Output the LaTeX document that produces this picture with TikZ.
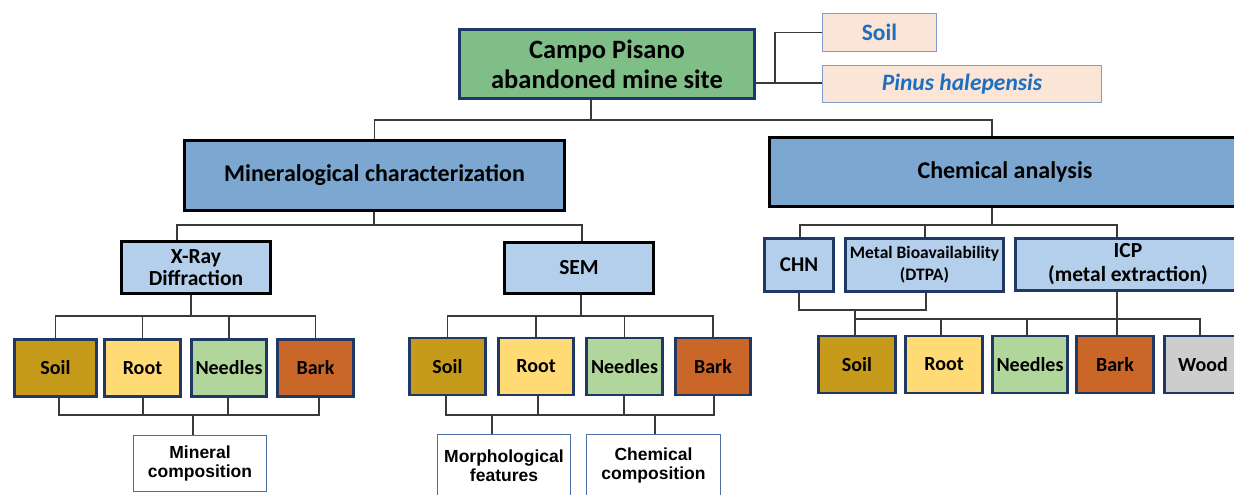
\documentclass[tikz,border=0pt]{standalone}
\usepackage{fontspec}
\setmainfont{Carlito}
\newfontfamily\arialf{Liberation Sans}
\definecolor{navy}{HTML}{1F3864}
\definecolor{linec}{HTML}{3A3A3A}
\definecolor{rootg}{HTML}{80BE88}
\definecolor{midblue}{HTML}{7BA7D0}
\definecolor{liteblue}{HTML}{B4CFEB}
\definecolor{peach}{HTML}{FBE5D6}
\definecolor{peachb}{HTML}{7F9DC6}
\definecolor{bluetxt}{HTML}{1F6FC0}
\definecolor{soilc}{HTML}{C69A1B}
\definecolor{rootc}{HTML}{FFDA75}
\definecolor{needc}{HTML}{B1D69B}
\definecolor{barkc}{HTML}{CB6629}
\definecolor{woodc}{HTML}{CDCDCD}
\definecolor{wbord}{HTML}{4F6FA5}
\begin{document}
\begin{tikzpicture}[x=1pt,y=-1pt,
  conn/.style={draw=linec, line width=1.4pt},
  box/.style={draw=navy, line width=2.8pt, align=center, inner sep=0pt,
    font=\bfseries\fontsize{20}{23}\selectfont},
  blkbox/.style={box, draw=black},
  sample/.style={box, minimum height=57},
  peachbox/.style={draw=peachb, fill=peach, line width=1.3pt, inner sep=0pt,
    text=bluetxt, font=\bfseries\fontsize{23.5}{26}\selectfont},
  resbox/.style={draw=wbord, fill=white, line width=1.4pt, align=center, inner sep=0pt,
    font=\arialf\bfseries\fontsize{17.5}{19}\selectfont}]
\useasboundingbox (0,0) rectangle (1234,495);
\clip (0,0) rectangle (1234,495);
\fill[white] (0,0) rectangle (1234,495);

% ---------- top level ----------
\node[box, fill=rootg, minimum width=295, minimum height=69,
  font=\bfseries\fontsize{26.5}{30}\selectfont] (root) at (607,64)
  {Campo Pisano\\abandoned mine site};
\node[peachbox, minimum width=114, minimum height=38] (soilT) at (879.5,32.5) {Soil};
\node[peachbox, minimum width=279, minimum height=37] (pinus) at (962,84) {\itshape Pinus halepensis};

\node[blkbox, fill=midblue, minimum width=380, minimum height=70,
  font=\bfseries\fontsize{24}{28}\selectfont] (minc) at (374.5,175.5) {Mineralogical characterization};
\node[blkbox, fill=midblue, minimum width=471, minimum height=69,
  font=\bfseries\fontsize{24}{28}\selectfont] (chem) at (1005,172) {Chemical analysis};

% ---------- second level ----------
\node[blkbox, fill=liteblue, minimum width=149, minimum height=52,
  font=\bfseries\fontsize{21.5}{21.5}\selectfont] (xray) at (196,267.5) {X-Ray\\Diffraction};
\node[blkbox, fill=liteblue, minimum width=149, minimum height=51,
  font=\bfseries\fontsize{21.5}{24}\selectfont] (sem) at (579,268) {SEM};
\node[box, fill=liteblue, minimum width=69, minimum height=53,
  font=\bfseries\fontsize{21}{24}\selectfont] (chn) at (799,265) {CHN};
\node[box, fill=liteblue, minimum width=158, minimum height=53,
  font=\bfseries\fontsize{17.5}{22}\selectfont] (metal) at (924.5,265) {Metal Bioavailability\\(DTPA)};
\node[box, fill=liteblue, minimum width=225, minimum height=52,
  font=\bfseries\fontsize{21.5}{24}\selectfont] (icp) at (1128,264.5) {ICP\\(metal extraction)};

% ---------- sample rows ----------
\node[sample, fill=soilc, minimum width=82] (soilA) at (55.5,368) {Soil};
\node[sample, fill=rootc, minimum width=76] (rootA) at (142.5,368) {Root};
\node[sample, fill=needc, minimum width=75] (needA) at (229,368) {Needles};
\node[sample, fill=barkc, minimum width=76] (barkA) at (315.5,368) {Bark};

\node[sample, fill=soilc, minimum width=76] (soilB) at (447.5,366.5) {Soil};
\node[sample, fill=rootc, minimum width=75] (rootB) at (536,366.5) {Root};
\node[sample, fill=needc, minimum width=76] (needB) at (624.5,366.5) {Needles};
\node[sample, fill=barkc, minimum width=75] (barkB) at (713,366.5) {Bark};

\node[sample, fill=soilc, minimum width=77] (soilC) at (857,364.5) {Soil};
\node[sample, fill=rootc, minimum width=77] (rootC) at (944,364.5) {Root};
\node[sample, fill=needc, minimum width=75] (needC) at (1030,364.5) {Needles};
\node[sample, fill=barkc, minimum width=77] (barkC) at (1115,364.5) {Bark};
\node[sample, fill=woodc, minimum width=77] (woodC) at (1203,364.5) {Wood};

% ---------- results ----------
\node[resbox, minimum width=133, minimum height=56] (minres) at (200,463.5) {Mineral\\composition};
\node[resbox, minimum width=133, minimum height=62] (morph) at (504,465.5) {Morphological\\features};
\node[resbox, minimum width=134, minimum height=62] (chemres) at (653.5,465.5) {Chemical\\composition};

% ---------- connectors: top ----------
\coordinate (rb) at (591,120);
\coordinate (cb) at (992,120);
\draw[conn] (root.south -| rb) -- (rb);
\draw[conn] (minc.north) |- (rb) -- (cb) -- (chem.north -| cb);
\coordinate (sp) at (775,83);
\draw[conn] (root.east |- sp) -- (sp) |- (soilT.west);
\draw[conn] (sp) -- (pinus.west |- sp);

% ---------- mineralogical ----------
\coordinate (mb) at (374,225);
\coordinate (mbl) at (177,225);
\coordinate (mbr) at (582,225);
\draw[conn] (minc.south -| mb) -- (mb);
\draw[conn] (xray.north -| mbl) -- (mbl) -- (mbr) -- (sem.north -| mbr);

% XRD
\coordinate (xb) at (191,316);
\draw[conn] (xray.south -| xb) -- (xb);
\draw[conn] (soilA.north) |- (xb) -| (barkA.north);
\draw[conn] (rootA.north) -- (rootA.north |- xb);
\draw[conn] (needA.north) -- (needA.north |- xb);
\coordinate (la) at (59,415);
\coordinate (lb) at (143,415);
\coordinate (lc) at (228,415);
\coordinate (ld) at (319,415);
\coordinate (lm) at (193,415);
\draw[conn] (soilA.south -| la) -- (la) -- (ld) -- (barkA.south -| ld);
\draw[conn] (rootA.south -| lb) -- (lb);
\draw[conn] (needA.south -| lc) -- (lc);
\draw[conn] (lm) -- (minres.north -| lm);

% SEM
\coordinate (sb) at (581,316);
\draw[conn] (sem.south -| sb) -- (sb);
\draw[conn] (soilB.north) |- (sb) -| (barkB.north);
\draw[conn] (rootB.north) -- (rootB.north |- sb);
\draw[conn] (needB.north) -- (needB.north |- sb);
\coordinate (sa) at (446,415);
\coordinate (sr) at (538,415);
\coordinate (sn) at (624,415);
\coordinate (sk) at (714,415);
\coordinate (smo) at (492,415);
\coordinate (sch) at (655,415);
\draw[conn] (soilB.south -| sa) -- (sa) -- (sk) -- (barkB.south -| sk);
\draw[conn] (rootB.south -| sr) -- (sr);
\draw[conn] (needB.south -| sn) -- (sn);
\draw[conn] (smo) -- (morph.north -| smo);
\draw[conn] (sch) -- (chemres.north -| sch);

% ---------- chemical ----------
\coordinate (cb2) at (992,225);
\coordinate (cl) at (800,225);
\coordinate (cm) at (925,225);
\coordinate (cr) at (1117,225);
\draw[conn] (chem.south -| cb2) -- (cb2);
\draw[conn] (chn.north -| cl) -- (cl) -- (cr) -- (icp.north -| cr);
\draw[conn] (cm) -- (metal.north -| cm);
\coordinate (h1) at (799,310);
\coordinate (h2) at (926,310);
\coordinate (hs) at (855,310);
\coordinate (hb) at (855,319);
\coordinate (hw) at (1200,319);
\draw[conn] (chn.south -| h1) -- (h1) -- (h2) -- (metal.south -| h2);
\draw[conn] (hs) -- (hb) -- (hw) -- (woodC.north -| hw);
\draw[conn] (hb) -- (soilC.north -| hb);
\coordinate (hr) at (941,319);
\coordinate (hn) at (1027,319);
\draw[conn] (hr) -- (rootC.north -| hr);
\draw[conn] (hn) -- (needC.north -| hn);
\draw[conn] (icp.south -| cr) -- (barkC.north -| cr);
\end{tikzpicture}
\end{document}
